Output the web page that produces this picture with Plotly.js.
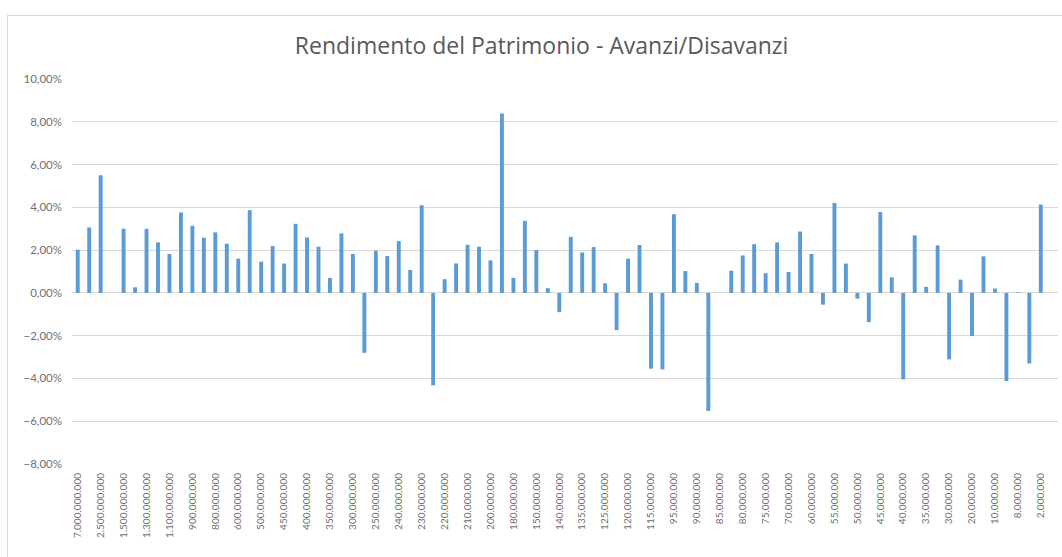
<!DOCTYPE html>
<html>
<head>
<meta charset="utf-8">
<script src="https://cdn.plot.ly/plotly-3.0.1.min.js"></script>
<style>
  html, body { margin: 0; padding: 0; background: #fff; }
  #chart { width: 1062px; height: 557px; }
  #frame { position: absolute; left: 7px; top: 15px; width: 1100px; height: 600px;
           border-left: 1px solid #d9d9d9; border-top: 1px solid #d9d9d9; pointer-events: none; }
</style>
</head>
<body>
<div id="chart"></div>
<div id="frame"></div>
<script>
// Visible category labels (Excel shows every other category label)
const labels = [
  "7.000.000.000", "2.500.000.000", "1.500.000.000", "1.300.000.000", "1.100.000.000",
  "900.000.000", "800.000.000", "600.000.000", "500.000.000", "450.000.000",
  "400.000.000", "350.000.000", "300.000.000", "250.000.000", "240.000.000",
  "230.000.000", "220.000.000", "210.000.000", "200.000.000", "180.000.000",
  "150.000.000", "140.000.000", "135.000.000", "125.000.000", "120.000.000",
  "115.000.000", "95.000.000", "90.000.000", "85.000.000", "80.000.000",
  "75.000.000", "70.000.000", "60.000.000", "55.000.000", "50.000.000",
  "45.000.000", "40.000.000", "35.000.000", "30.000.000", "20.000.000",
  "10.000.000", "8.000.000", "2.000.000"
];

// Return values (%) for each of the 86 categories, left to right
const values = [
  2.02, 3.06, 5.50, null, 3.00, 0.26, 3.00, 2.36, 1.82, 3.76,
  3.14, 2.58, 2.83, 2.30, 1.60, 3.87, 1.46, 2.19, 1.37, 3.23,
  2.59, 2.16, 0.70, 2.78, 1.82, -2.80, 1.97, 1.72, 2.42, 1.07,
  4.10, -4.32, 0.64, 1.38, 2.25, 2.16, 1.52, 8.39, 0.70, 3.37,
  2.00, 0.22, -0.90, 2.62, 1.89, 2.14, 0.45, -1.74, 1.60, 2.24,
  -3.54, -3.58, 3.68, 1.02, 0.47, -5.52, null, 1.04, 1.75, 2.28,
  0.92, 2.36, 0.98, 2.87, 1.82, -0.55, 4.20, 1.37, -0.27, -1.37,
  3.78, 0.73, -4.04, 2.69, 0.28, 2.22, -3.11, 0.62, -2.02, 1.71,
  0.20, -4.12, 0.03, -3.30, 4.13, null
];

const yTicks = [-8, -6, -4, -2, 0, 2, 4, 6, 8, 10];

const xIdx = values.map((_, i) => i);
const yFrac = values.map(v => v === null ? null : v / 100);
const tickVals = labels.map((_, i) => i * 2);

const trace = {
  type: 'bar',
  x: xIdx,
  y: yFrac,
  marker: { color: '#5B9BD5' },
  hoverinfo: 'skip'
};

const layout = {
  width: 1062, height: 557,
  margin: { l: 72, r: 4, t: 79, b: 93 },
  paper_bgcolor: '#ffffff',
  plot_bgcolor: '#ffffff',
  separators: ',.',
  showlegend: false,
  bargap: 0.66,
  title: {
    text: 'Rendimento del Patrimonio - Avanzi/Disavanzi',
    font: { family: 'Open Sans, sans-serif', size: 23, color: '#595959' },
    x: 0.51, xref: 'container', xanchor: 'center',
    y: 0.918, yref: 'container', yanchor: 'middle'
  },
  xaxis: {
    type: 'linear',
    range: [-0.5, values.length - 0.5],
    tickmode: 'array',
    tickvals: tickVals,
    ticktext: labels,
    tickangle: -90,
    tickfont: { family: 'Lato, sans-serif', size: 10, color: '#6f6f6f' },
    showgrid: false,
    zeroline: false,
    showline: false,
    ticks: '',
    ticklabelstandoff: 6
  },
  yaxis: {
    range: [-0.08, 0.10],
    tickmode: 'array',
    tickvals: yTicks.map(v => v / 100),
    tickformat: '.2%',
    tickfont: { family: 'Lato, sans-serif', size: 11.5, color: '#6f6f6f' },
    showgrid: true,
    gridcolor: '#d9d9d9',
    gridwidth: 1,
    zeroline: true,
    zerolinecolor: '#d9d9d9',
    zerolinewidth: 1,
    showline: false,
    ticks: '',
    ticklabelstandoff: 9
  }
};

Plotly.newPlot('chart', [trace], layout, { displayModeBar: false, staticPlot: true });
</script>
</body>
</html>
